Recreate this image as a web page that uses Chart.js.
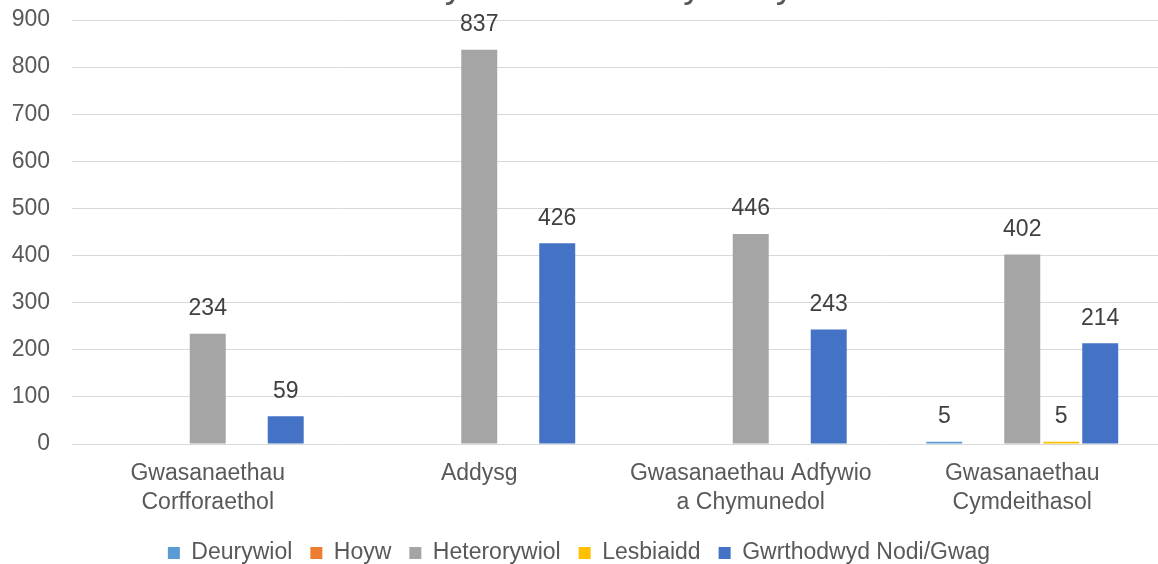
<!DOCTYPE html>
<html>
<head>
<meta charset="utf-8">
<script src="https://cdn.jsdelivr.net/npm/chart.js@4.4.1/dist/chart.umd.min.js"></script>
<style>
  html, body { margin: 0; padding: 0; background: #fff; overflow: hidden; }
  #wrap { position: relative; width: 1158px; height: 564px; }
  #title {
    position: absolute; left: 418px; top: -34px;
    font: 37px/37px "Liberation Sans", Arial, sans-serif;
    color: #595959; white-space: nowrap; z-index: 2;
  }
</style>
</head>
<body>
<div id="wrap">
  <div id="title">Cyfeiriadedd Rhywiol yn ôl Maes Gwasanaeth</div>
  <canvas id="chart"></canvas>
</div>
<script>
const categories = [
    ['Gwasanaethau', 'Corfforaethol'],
    'Addysg',
    ['Gwasanaethau Adfywio', 'a Chymunedol'],
    ['Gwasanaethau', 'Cymdeithasol']
];
const seriesNames = ['Deurywiol', 'Hoyw', 'Heterorywiol', 'Lesbiaidd', 'Gwrthodwyd Nodi/Gwag'];
const deurywiol = [0, 0, 0, 5];
const hoyw = [0, 0, 0, 0];
const heterorywiol = [234, 837, 446, 402];
const lesbiaidd = [0, 0, 0, 5];
const gwrthodwyd = [59, 426, 243, 214];
const seriesColors = ['#5B9BD5', '#ED7D31', '#A5A5A5', '#FFC000', '#4472C4'];
const yTicks = [0, 100, 200, 300, 400, 500, 600, 700, 800, 900];

const FONT = '"Liberation Sans", Arial, sans-serif';
Chart.defaults.font.family = FONT;

// value labels above each non-zero bar
const barLabels = {
    id: 'barLabels',
    afterDatasetsDraw(chart) {
        const ctx = chart.ctx;
        ctx.save();
        ctx.font = '23px ' + FONT;
        ctx.fillStyle = '#404040';
        ctx.textAlign = 'center';
        ctx.textBaseline = 'middle';
        chart.data.datasets.forEach((ds, i) => {
            chart.getDatasetMeta(i).data.forEach((bar, j) => {
                const v = ds.data[j];
                if (!v) return;
                ctx.fillText(String(v), bar.x, bar.y - 25);
            });
        });
        ctx.restore();
    }
};

const allSeries = [deurywiol, hoyw, heterorywiol, lesbiaidd, gwrthodwyd];

new Chart(document.getElementById('chart'), {
    type: 'bar',
    data: {
        labels: categories,
        datasets: allSeries.map((vals, i) => ({
            label: seriesNames[i],
            data: vals,
            backgroundColor: seriesColors[i],
            borderWidth: 0,
            categoryPercentage: 0.718,
            barPercentage: 0.923
        }))
    },
    options: {
        responsive: true,
        maintainAspectRatio: false,
        animation: false,
        layout: { padding: { left: 0, right: 0, top: 20, bottom: -10.5 } },
        scales: {
            x: {
                grid: { display: false, drawTicks: false },
                border: { display: false },
                ticks: {
                    color: '#595959',
                    padding: 15,
                    maxRotation: 0,
                    autoSkip: false,
                    font: { size: 23, lineHeight: 1.27 }
                },
                afterFit(scale) { scale.height = 79.5; }
            },
            y: {
                min: 0,
                max: yTicks[yTicks.length - 1],
                afterBuildTicks(scale) { scale.ticks = yTicks.map(v => ({ value: v })); },
                grid: { color: '#D9D9D9', lineWidth: 1, drawTicks: false },
                border: { display: false },
                ticks: {
                    color: '#595959',
                    padding: 22,
                    font: { size: 23 }
                },
                afterFit(scale) {
                    scale.width = 72;
                    scale.paddingTop = 0;
                    scale.paddingBottom = 0;
                }
            }
        },
        plugins: {
            legend: {
                position: 'bottom',
                labels: {
                    boxWidth: 12,
                    boxHeight: 12,
                    padding: 18,
                    color: '#595959',
                    font: { size: 23 }
                }
            },
            tooltip: { enabled: false },
            title: { display: false }
        }
    },
    plugins: [barLabels]
});
</script>
</body>
</html>
